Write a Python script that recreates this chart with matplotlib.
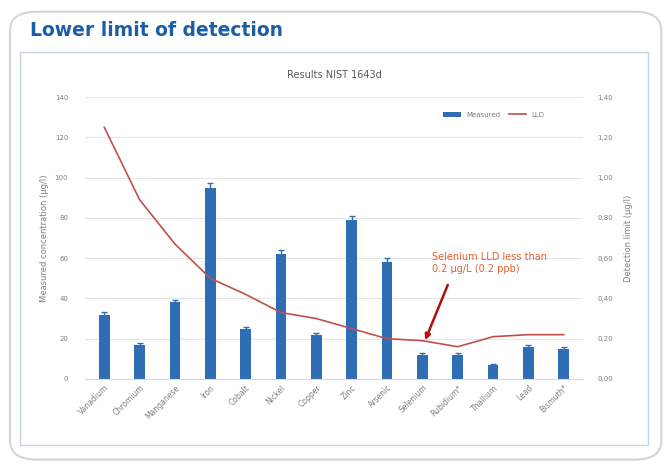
import numpy as np
from matplotlib import pyplot as plt
from matplotlib.patches import FancyBboxPatch, Rectangle

elements = ["Vanadium", "Chromium", "Manganese", "Iron", "Cobalt", "Nickel", "Copper",
            "Zinc", "Arsenic", "Selenium", "Rubidium*", "Thallium", "Lead", "Bismuth*"]
measured = [32, 17, 38, 95, 25, 62, 22, 79, 58, 12, 12, 7, 16, 15]
measured_err = [1.5, 0.8, 1.0, 2.5, 0.8, 2.0, 0.8, 2.0, 2.0, 0.8, 0.8, 0.6, 0.8, 0.8]
lld = [1.25, 0.89, 0.67, 0.50, 0.42, 0.33, 0.30, 0.25, 0.20, 0.19, 0.16, 0.21, 0.22, 0.22]

bar_color = "#2f6db5"
line_color = "#c0504d"
grey = "#7f7f7f"

fig = plt.figure(figsize=(6.68, 4.69), dpi=100)

# outer rounded card and inner chart frame (behind the axes)
card = FancyBboxPatch((0.015, 0.02), 0.975, 0.955, boxstyle="round,pad=0,rounding_size=0.04",
                      transform=fig.transFigure, facecolor="white", edgecolor="#d0d6dc", lw=1.5,
                      zorder=-2)
fig.patches.append(card)
frame = Rectangle((0.03, 0.052), 0.94, 0.838, transform=fig.transFigure,
                  facecolor="white", edgecolor="#c5d5e5", lw=1, zorder=-1)
fig.patches.append(frame)

fig.text(0.045, 0.935, "Lower limit of detection", color="#1a5ea8", fontsize=13.5,
         fontweight="bold", va="center")
fig.text(0.5, 0.84, "Results NIST 1643d", color="#595959", fontsize=7, ha="center", va="center")

ax = fig.add_axes([0.127, 0.192, 0.746, 0.601])
ax.patch.set_visible(False)
x = np.arange(len(elements))
ax.bar(x, measured, width=0.3, color=bar_color, yerr=measured_err,
       error_kw=dict(ecolor=bar_color, capsize=2, elinewidth=1), label="Measured", zorder=2)
ax.set_ylim(0, 140)
ax.set_yticks(range(0, 141, 20))
ax.set_xlim(-0.55, len(elements) - 0.45)
ax.set_xticks(x)
ax.set_xticklabels(elements, rotation=45, ha="right", rotation_mode="anchor",
                   fontsize=5.5, color=grey)
ax.tick_params(axis="y", labelsize=5, colors=grey, length=0, pad=12)
ax.tick_params(axis="x", length=0, pad=3)
ax.grid(axis="y", color="#e6e6e6", lw=0.8, zorder=0)
for s in ax.spines.values():
    s.set_visible(False)
ax.spines["bottom"].set_visible(True)
ax.spines["bottom"].set_color("#d9d9d9")
ax.set_ylabel("Measured concentration (\u00b5g/l)", fontsize=6, color=grey, labelpad=4)

ax2 = ax.twinx()
ax2.patch.set_visible(False)
ax2.plot(x, lld, color=line_color, lw=1.2, label="LLD", zorder=3)
ax2.set_ylim(0, 1.4)
ax2.set_yticks(np.arange(0, 1.41, 0.2))
ax2.set_yticklabels([f"{v:.2f}".replace(".", ",") for v in np.arange(0, 1.41, 0.2)])
ax2.tick_params(axis="y", labelsize=5, colors=grey, length=0, pad=10)
for s in ax2.spines.values():
    s.set_visible(False)
ax2.set_ylabel("Detection limit (\u00b5g/l)", fontsize=6, color=grey, labelpad=8)

h1, l1 = ax.get_legend_handles_labels()
h2, l2 = ax2.get_legend_handles_labels()
ax2.legend(h1 + h2, l1 + l2, loc="upper right", bbox_to_anchor=(0.935, 0.97), ncol=2,
           frameon=False, fontsize=5, labelcolor=grey, handlelength=2.5, columnspacing=1.2)

ax2.annotate("", xy=(9.05, 0.18), xytext=(9.75, 0.48),
             arrowprops=dict(arrowstyle="-|>", color="#b0100c", lw=1.8, mutation_scale=8))
ax2.text(9.27, 0.575, "Selenium LLD less than\n0.2 \u00b5g/L (0.2 ppb)", color="#e0602e",
         fontsize=7, va="center", ha="left", linespacing=1.2)

fig.savefig("out.png", dpi=100)
